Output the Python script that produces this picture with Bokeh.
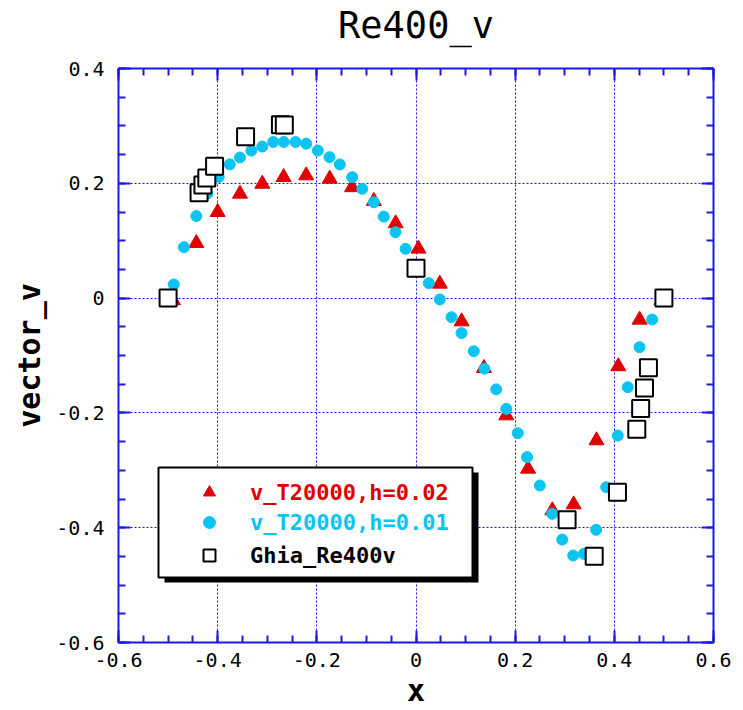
from bokeh.plotting import figure
from bokeh.models import (LinearAxis, Range1d, Legend, LegendItem, BoxAnnotation,
                          FixedTicker, ColumnDataSource, CustomJSTickFormatter)
from bokeh.embed import file_html
from bokeh.resources import INLINE

# Scheme with h = 0.02 (red triangles)
x_h002 = [-0.490, -0.443, -0.400, -0.355, -0.310, -0.267, -0.2215, -0.174, -0.129,
          -0.085, -0.041, 0.005, 0.048, 0.092, 0.137, 0.182, 0.226, 0.275, 0.318,
          0.364, 0.408, 0.451, 0.495]
v_h002 = [-0.004, 0.0957, 0.1497, 0.1817, 0.199, 0.2106, 0.2136, 0.2078, 0.193,
          0.169, 0.130, 0.0859, 0.0249, -0.0408, -0.122, -0.2045, -0.2974, -0.370,
          -0.3596, -0.248, -0.119, -0.0378, -0.004]

# Scheme with h = 0.01 (cyan circles)
x_h001 = [-0.4885, -0.468, -0.443, -0.421, -0.398, -0.3755, -0.355, -0.332, -0.310,
          -0.288, -0.2666, -0.243, -0.2215, -0.198, -0.1745, -0.1537, -0.1287,
          -0.1085, -0.085, -0.065, -0.0413, -0.021, 0.003, 0.0258, 0.048, 0.0716,
          0.0918, 0.1166, 0.138, 0.1618, 0.182, 0.2053, 0.224, 0.2497, 0.2747,
          0.2949, 0.317, 0.3385, 0.3634, 0.3836, 0.407, 0.4272, 0.4508, 0.4764]
v_h001 = [0.0237, 0.0887, 0.143, 0.182, 0.211, 0.233, 0.245, 0.257, 0.264,
          0.272, 0.272, 0.272, 0.269, 0.257, 0.2455, 0.2328, 0.2106,
          0.1904, 0.167, 0.142, 0.1148, 0.0859, 0.056, 0.026, -0.0024, -0.0333,
          -0.061, -0.0925, -0.123, -0.159, -0.193, -0.2353, -0.277, -0.3265, -0.3758,
          -0.4206, -0.4484, -0.4455, -0.4037, -0.3294, -0.2394, -0.1552, -0.0855, -0.0373]

# Ghia et al. reference values, Re = 400
x_ghia = [-0.5, -0.4375, -0.4297, -0.4219, -0.4062, -0.3437, -0.2734, -0.2656, 0.0,
          0.3047, 0.3594, 0.4063, 0.4453, 0.4531, 0.4609, 0.4688, 0.5]
v_ghia = [0.0, 0.1836, 0.1971, 0.2092, 0.2297, 0.2812, 0.3020, 0.3017, 0.0519,
          -0.3860, -0.4499, -0.3383, -0.2285, -0.1925, -0.1566, -0.1215, 0.0]

series_labels = ["v_T20000,h=0.02", "v_T20000,h=0.01", "Ghia_Re400v"]
chart_title = "Re400_v"

x_ticks = [-0.6, -0.4, -0.2, 0.0, 0.2, 0.4, 0.6]
x_tick_labels = ["-0.6", "-0.4", "-0.2", "0", "0.2", "0.4", "0.6"]
y_ticks = [-0.6, -0.4, -0.2, 0.0, 0.2, 0.4]
y_tick_labels = ["-0.6", "-0.4", "-0.2", "0", "0.2", "0.4"]

RED = "#e00000"
CYAN = "#0cc4f2"
AXIS_BLUE = "#1a1ae6"
MONO = "DejaVu Sans Mono"

p = figure(width=743, height=710, output_backend="svg", toolbar_location=None,
           x_range=Range1d(-0.6, 0.6), y_range=Range1d(-0.6, 0.4),
           min_border_left=118, min_border_right=30, min_border_top=68,
           min_border_bottom=68, x_axis_label="x", y_axis_label="vector_v")
p.outline_line_color = None
p.background_fill_color = "white"

x_minor = [round(-0.6 + 0.05 * i, 2) for i in range(25)]
y_minor = [round(-0.6 + 0.05 * i, 2) for i in range(21)]
x_ticker = FixedTicker(ticks=x_ticks, minor_ticks=x_minor)
y_ticker = FixedTicker(ticks=y_ticks, minor_ticks=y_minor)


def style_axis(ax, ticker, labels, show):
    ax.ticker = ticker
    ax.axis_line_color = AXIS_BLUE
    ax.axis_line_width = 2
    ax.major_tick_line_color = AXIS_BLUE
    ax.minor_tick_line_color = AXIS_BLUE
    ax.major_tick_line_width = 2
    ax.minor_tick_line_width = 2
    ax.major_tick_in = 12
    ax.major_tick_out = 0
    ax.minor_tick_in = 7
    ax.minor_tick_out = 0
    ax.axis_label_text_font = MONO
    ax.axis_label_text_color = "black"
    if show:
        ax.major_label_overrides = dict(zip(ticker.ticks, labels))
        ax.major_label_text_font = MONO
        ax.major_label_text_font_size = "20px"
        ax.major_label_text_color = "black"
        ax.axis_label_text_font_style = "bold"
        ax.axis_label_text_font_size = "30px"
    else:
        # frame side that carries ticks only
        ax.formatter = CustomJSTickFormatter(code="return ''")
        ax.major_label_text_font_size = "0px"
        ax.major_label_standoff = 0


style_axis(p.xaxis[0], x_ticker, x_tick_labels, True)
style_axis(p.yaxis[0], y_ticker, y_tick_labels, True)
p.xaxis[0].major_label_standoff = 10
p.xaxis[0].axis_label_standoff = 3
p.yaxis[0].major_label_standoff = 14
p.yaxis[0].axis_label_standoff = 6

# Top side: tick marks plus the chart heading
top_axis = LinearAxis(axis_label=chart_title)
right_axis = LinearAxis()
style_axis(top_axis, x_ticker, x_tick_labels, False)
style_axis(right_axis, y_ticker, y_tick_labels, False)
top_axis.axis_label_text_font_size = "37px"
top_axis.axis_label_text_font_style = "normal"
top_axis.axis_label_standoff = 22
p.add_layout(top_axis, "above")
p.add_layout(right_axis, "right")

for g, tk in ((p.xgrid[0], x_ticker), (p.ygrid[0], y_ticker)):
    g.ticker = FixedTicker(ticks=tk.ticks)
    g.grid_line_color = AXIS_BLUE
    g.grid_line_width = 1
    g.grid_line_dash = "2 2"

src_a = ColumnDataSource(dict(x=x_h002, v=v_h002))
src_b = ColumnDataSource(dict(x=x_h001, v=v_h001))
src_c = ColumnDataSource(dict(x=x_ghia, v=v_ghia))

r_a = p.scatter("x", "v", source=src_a, marker="triangle", size=15,
                fill_color=RED, line_color=RED)
r_b = p.scatter("x", "v", source=src_b, marker="circle", size=11,
                fill_color=CYAN, line_color=CYAN)
r_c = p.scatter("x", "v", source=src_c, marker="square", size=17,
                fill_color="white", line_color="black", line_width=2)

# Legend frame with a drop shadow
p.add_layout(BoxAnnotation(left=164, right=478, top=472, bottom=582,
                           left_units="canvas", right_units="canvas",
                           top_units="canvas", bottom_units="canvas",
                           fill_color="black", fill_alpha=1, line_color=None))
p.add_layout(BoxAnnotation(left=158, right=472, top=467, bottom=577,
                           left_units="canvas", right_units="canvas",
                           top_units="canvas", bottom_units="canvas",
                           fill_color="white", fill_alpha=1,
                           line_color="black", line_width=2, line_alpha=1))

# One legend per entry so each label keeps its series colour
for rend, lab, col, ypos in ((r_a, series_labels[0], RED, 135),
                             (r_b, series_labels[1], CYAN, 105),
                             (r_c, series_labels[2], "black", 72)):
    lg = Legend(items=[LegendItem(label=lab, renderers=[rend])],
                location=(71, ypos), margin=0, padding=0,
                glyph_width=40, glyph_height=30, label_height=30,
                label_standoff=21, border_line_color=None,
                background_fill_alpha=0,
                label_text_font=MONO, label_text_font_style="bold",
                label_text_font_size="22px", label_text_color=col)
    p.add_layout(lg, "center")

open("out.html", "w").write(file_html(p, INLINE))
